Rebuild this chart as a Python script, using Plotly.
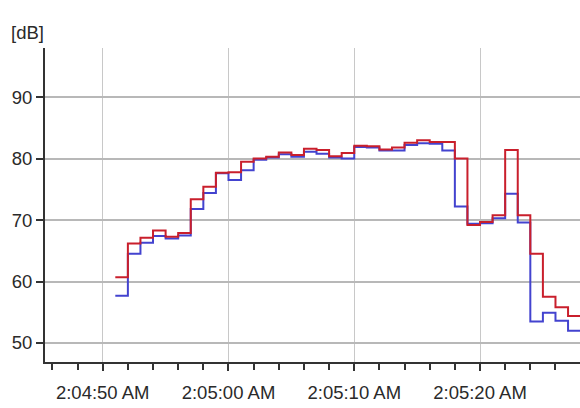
import plotly.graph_objects as go

# Data: one value per second, starting 2:04:51 AM
start_second = 51  # seconds after 2:04:00
red_values = [60.7, 66.2, 67.1, 68.3, 67.3, 67.9, 73.4, 75.4, 77.7, 77.8,
              79.5, 80.0, 80.3, 81.0, 80.6, 81.6, 81.4, 80.4, 80.9, 82.1,
              82.0, 81.5, 81.8, 82.6, 83.0, 82.7, 82.7, 80.0, 69.2, 69.7,
              70.8, 81.4, 70.8, 64.5, 57.5, 55.8, 54.4]
blue_values = [57.7, 64.5, 66.3, 67.4, 67.0, 67.5, 71.8, 74.4, 77.6, 76.5,
               78.1, 79.8, 80.2, 80.7, 80.3, 81.1, 80.8, 80.2, 80.0, 81.9,
               81.8, 81.3, 81.3, 82.2, 82.5, 82.4, 81.3, 72.2, 69.4, 69.5,
               70.3, 74.3, 69.6, 53.5, 54.9, 53.6, 52.0]
y_ticks = [50, 60, 70, 80, 90]
x_tick_seconds = [50, 60, 70, 80]
x_tick_labels = ["2:04:50 AM", "2:05:00 AM", "2:05:10 AM", "2:05:20 AM"]


def ts(sec):
    m = 4 + int(sec) // 60
    s = sec - (int(sec) // 60) * 60
    whole = int(s)
    ms = int(round((s - whole) * 1000))
    return f"2024-01-01 02:{m:02d}:{whole:02d}.{ms:03d}"


n = len(red_values)
times = [ts(start_second + i) for i in range(n + 1)]
red_y = red_values + red_values[-1:]
blue_y = blue_values + blue_values[-1:]

font_family = "Liberation Sans, Arial, sans-serif"
font_size = 18.5
text_color = "#2a2a2a"

fig = go.Figure()
fig.add_trace(go.Scatter(x=times, y=blue_y, mode="lines", line_shape="hv",
                         line=dict(color="#4343cf", width=2), showlegend=False))
fig.add_trace(go.Scatter(x=times, y=red_y, mode="lines", line_shape="hv",
                         line=dict(color="#c91f2c", width=2), showlegend=False))

fig.update_layout(
    width=580, height=408,
    margin=dict(l=45, r=0, t=48, b=46),
    paper_bgcolor="white", plot_bgcolor="white",
    font=dict(family=font_family, size=font_size, color=text_color),
    xaxis=dict(
        type="date",
        automargin=False,
        range=[ts(45.41), ts(27.95 + 60)],
        tickvals=[ts(s) for s in x_tick_seconds],
        ticktext=x_tick_labels,
        ticks="outside", ticklen=7, tickwidth=1.5, tickcolor="#333333",
        ticklabelstandoff=6,
        showline=True, linecolor="#333333", linewidth=2,
        showgrid=True, gridcolor="#c8c8c8", gridwidth=1,
        zeroline=False,
        minor=dict(dtick=2000, tick0=ts(50), ticks="outside", ticklen=6,
                   tickwidth=1.5, tickcolor="#333333", showgrid=False),
    ),
    yaxis=dict(
        automargin=False,
        range=[46.9, 98.0],
        tickvals=y_ticks,
        ticks="outside", ticklen=7, tickwidth=1.5, tickcolor="#333333",
        showline=True, linecolor="#333333", linewidth=2,
        showgrid=True, gridcolor="#b8b8b8", gridwidth=1.5,
        zeroline=False,
    ),
    annotations=[dict(text="[dB]", xref="paper", yref="paper",
                      x=-0.068, y=1.05, xanchor="left", yanchor="middle",
                      showarrow=False,
                      font=dict(family=font_family, size=font_size, color=text_color))],
)

fig.write_html("out.html",
               config={"displayModeBar": False},
               post_script="document.body.style.margin='0';document.body.style.padding='0';")
